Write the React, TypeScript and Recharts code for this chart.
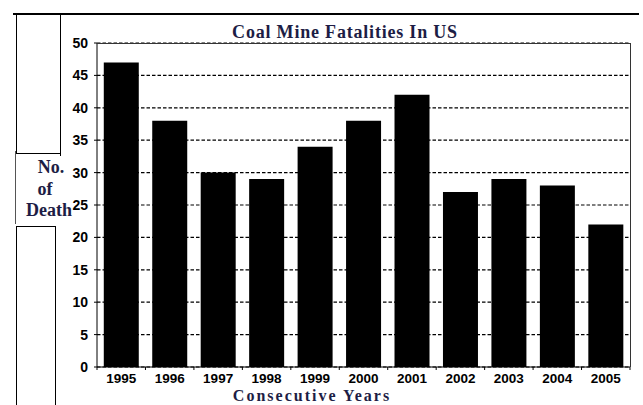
import { BarChart, Bar, XAxis, YAxis, CartesianGrid } from 'recharts';

const years = ['1995', '1996', '1997', '1998', '1999', '2000', '2001', '2002', '2003', '2004', '2005'];
const deaths = [47, 38, 30, 29, 34, 38, 42, 27, 29, 28, 22];
const yTicks = [0, 5, 10, 15, 20, 25, 30, 35, 40, 45, 50];

const W = 643;
const H = 405;
const margin = { top: 43, right: 13, bottom: 0, left: 0 };
const Y_AXIS_W = 97;
const X_AXIS_H = 38;
const plotRight = W - margin.right;
const plotBottom = H - X_AXIS_H;
const band = (plotRight - Y_AXIS_W) / years.length;

const data = years.map((year, i) => ({ year, deaths: deaths[i] }));

const tickFont = { fontFamily: '"Liberation Sans", Arial, sans-serif', fontWeight: 700, fontSize: 14 };
const serif = '"Liberation Serif", "Times New Roman", serif';
const ink = '#1d1d45';

// Excel-style x axis: tick marks sit on the category boundaries, labels in the middle
function YearTick(props: any) {
  const { x, y, payload, index } = props;
  const left = x - band / 2;
  const right = x + band / 2;
  return (
    <g>
      <line x1={left} y1={y} x2={left} y2={y + 3} stroke="#000" />
      {index === years.length - 1 && <line x1={right} y1={y} x2={right} y2={y + 3} stroke="#000" />}
      <text x={x} y={y + 16} textAnchor="middle" fill="#000" style={{ ...tickFont, fontSize: 13.5 }}>
        {payload.value}
      </text>
    </g>
  );
}

export default function App() {
  return (
    <div style={{ position: 'fixed', left: 0, top: 0, width: W, height: H, background: '#fff' }}>
      <BarChart width={W} height={H} data={data} margin={margin} barCategoryGap="14%">
        <CartesianGrid vertical={false} stroke="#000" strokeWidth={1.2} strokeDasharray="3.5 2" />
        <XAxis
          dataKey="year"
          height={X_AXIS_H}
          axisLine={{ stroke: '#000' }}
          tickLine={false}
          tickSize={0}
          tickMargin={0}
          interval={0}
          tick={<YearTick />}
        />
        <YAxis
          width={Y_AXIS_W}
          domain={[0, 50]}
          ticks={yTicks}
          interval={0}
          axisLine={{ stroke: '#000' }}
          tickLine={{ stroke: '#000' }}
          tickSize={3}
          tickMargin={6}
          tick={{ fill: '#000', ...tickFont }}
        />
        <Bar dataKey="deaths" fill="#000" isAnimationActive={false} />
      </BarChart>

      <svg
        width={W}
        height={H}
        style={{ position: 'absolute', left: 0, top: 0, pointerEvents: 'none' }}
      >
        {/* outer frame */}
        <line x1={13} y1={14} x2={639} y2={14} stroke="#000" strokeWidth={2} />
        <line x1={16.5} y1={15} x2={16.5} y2={153} stroke="#000" />
        <line x1={60.5} y1={15} x2={60.5} y2={156} stroke="#000" />
        <line x1={16} y1={153.5} x2={61} y2={153.5} stroke="#000" />
        <line x1={15.5} y1={151} x2={15.5} y2={224} stroke="#555" />
        <line x1={16} y1={226.5} x2={55} y2={226.5} stroke="#000" />
        <line x1={16.5} y1={226} x2={16.5} y2={H} stroke="#000" />
        <line x1={55.5} y1={226} x2={55.5} y2={H} stroke="#000" />

        {/* plot border */}
        <line x1={Y_AXIS_W} y1={margin.top + 0.5} x2={plotRight} y2={margin.top + 0.5} stroke="#333" />
        <line x1={plotRight + 0.5} y1={margin.top} x2={plotRight + 0.5} y2={plotBottom} stroke="#333" />

        <text x={345} y={38} textAnchor="middle" fill={ink} fontFamily={serif} fontWeight={700} fontSize={18} letterSpacing={0.8}>
          Coal Mine Fatalities In US
        </text>
        <text x={312} y={401} textAnchor="middle" fill={ink} fontFamily={serif} fontWeight={700} fontSize={16} letterSpacing={2}>
          Consecutive Years
        </text>
        <g fill={ink} fontFamily={serif} fontWeight={700} fontSize={18} textAnchor="middle">
          <text x={51} y={173}>No.</text>
          <text x={45} y={195}>of</text>
          <text x={49} y={216}>Death</text>
        </g>
      </svg>
    </div>
  );
}
